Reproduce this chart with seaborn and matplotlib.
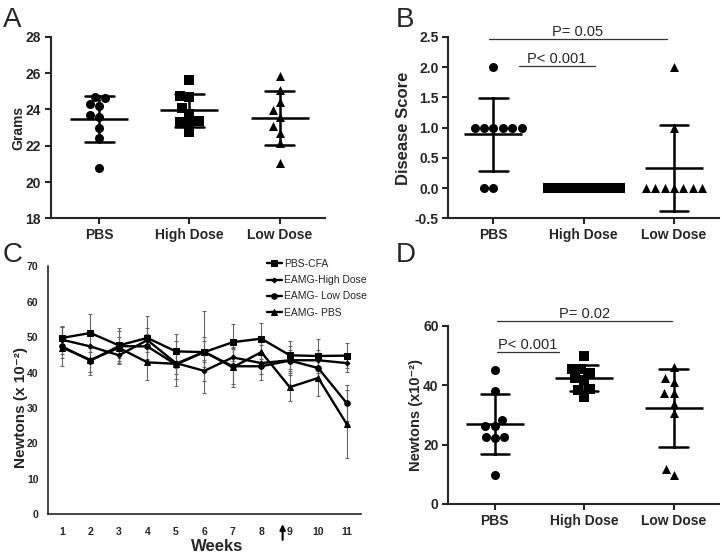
import numpy as np
import pandas as pd
import matplotlib
matplotlib.use("Agg")
import matplotlib.pyplot as plt
import seaborn as sns

sns.set_style("ticks")
plt.rcParams["font.family"] = ["Liberation Sans", "DejaVu Sans"]
plt.rcParams["font.weight"] = "bold"
plt.rcParams["axes.labelweight"] = "bold"

groups = ["PBS", "High Dose", "Low Dose"]

# panel A - body weight (grams)
weight_pbs = [24.6, 24.7, 24.2, 24.3, 23.7, 23.6, 23.0, 22.4, 20.8]
weight_high = [25.6, 24.7, 24.75, 24.05, 23.75, 23.35, 23.3, 23.25, 22.75]
weight_low = [25.83, 25.06, 24.42, 23.96, 23.6, 23.08, 22.72, 22.13, 21.06]

# panel B - disease score
score_pbs = [2, 1, 1, 1, 1, 1, 1, 0, 0]
score_high = [0, 0, 0, 0, 0, 0, 0, 0, 0]
score_low = [2, 1, 0, 0, 0, 0, 0, 0, 0]

# panel C - grip strength over time (mean, sd)
weeks = list(range(1, 12))
cfa = [49.8, 51.2, 47.7, 49.8, 46.0, 45.8, 48.6, 49.6, 44.9, 44.7, 44.8]
cfa_sd = [3.0, 5.5, 5.0, 6.2, 4.8, 4.2, 5.2, 4.4, 4.0, 4.8, 3.5]
high = [49.3, 47.4, 44.9, 49.2, 42.7, 40.5, 44.3, 42.7, 43.5, 43.5, 42.7]
high_sd = [4.0, 3.5, 2.5, 3.5, 3.0, 3.0, 3.0, 3.0, 3.0, 3.0, 2.5]
low = [47.4, 43.4, 47.5, 47.4, 42.3, 45.8, 41.8, 41.8, 43.4, 41.3, 31.4]
low_sd = [5.4, 4.0, 4.2, 3.5, 4.0, 11.5, 5.0, 3.8, 4.0, 3.5, 5.0]
pbs = [47.1, 43.6, 47.0, 42.9, 42.5, 45.9, 41.5, 45.8, 35.9, 38.5, 25.5]
pbs_sd = [3.0, 3.5, 3.0, 5.0, 6.3, 3.0, 5.5, 2.0, 3.9, 5.0, 9.5]

# panel D - grip strength at end (newtons x10^-2)
newt_pbs = [45.1, 38.0, 28.3, 26.4, 26.4, 22.7, 22.1, 22.7, 9.8]
newt_high = [49.9, 45.6, 45.6, 42.5, 44.2, 41.7, 38.6, 38.4, 36.1]
newt_low = [46.0, 42.5, 41.2, 37.5, 37.5, 33.6, 30.5, 11.7, 9.8]

markers = ["o", "s", "^"]


def dot_panel(ax, values):
    df = pd.DataFrame({"group": np.repeat(groups, [len(v) for v in values]),
                       "val": np.concatenate(values)})
    for g, m in zip(groups, markers):
        sns.swarmplot(data=df[df.group == g], x="group", y="val", order=groups,
                      marker=m, color="black", size=6.5, ax=ax, zorder=3)
    sns.pointplot(data=df, x="group", y="val", order=groups, errorbar="sd",
                  capsize=0.32, color="black", markers="_", linestyles="none",
                  markersize=42, markeredgewidth=1.8,
                  err_kws={"linewidth": 1.8}, ax=ax)
    sns.despine(ax=ax)
    for s in ["left", "bottom"]:
        ax.spines[s].set_linewidth(1.5)
    ax.tick_params(width=1.5, length=4, labelsize=10, pad=3)
    ax.set_xlabel("")


def bracket(ax, x0, x1, y, text):
    ax.plot([x0, x1], [y, y], color="#333333", lw=0.9, clip_on=False)
    ax.text((x0 + x1) / 2, y, text, ha="center", va="bottom",
            fontsize=10.5, fontweight="normal")


fig = plt.figure(figsize=(7.22, 5.57), dpi=100)

# A
axA = fig.add_axes([0.0702, 0.608, 0.380, 0.326])
dot_panel(axA, [weight_pbs, weight_high, weight_low])
axA.set_ylim(18, 28)
axA.set_yticks([18, 20, 22, 24, 26, 28])
axA.set_xlim(-0.535, 2.5)
axA.set_ylabel("Grams", fontsize=10)
axA.yaxis.set_label_coords(-0.094, 0.5)

# B
axB = fig.add_axes([0.621, 0.608, 0.375, 0.326])
dot_panel(axB, [score_pbs, score_high, score_low])
axB.set_ylim(-0.5, 2.5)
axB.set_yticks(np.arange(-0.5, 2.6, 0.5))
axB.set_yticklabels([f"{v:.1f}" for v in np.arange(-0.5, 2.6, 0.5)])
axB.set_xlim(-0.5, 2.5)
axB.set_ylabel("Disease Score", fontsize=12)
axB.yaxis.set_label_coords(-0.138, 0.495)
bracket(axB, -0.05, 1.92, 2.46, "P= 0.05")
bracket(axB, 0.28, 1.125, 2.01, "P< 0.001")

# C
axC = fig.add_axes([0.0669, 0.0767, 0.433, 0.445])
series = [("PBS-CFA", cfa, cfa_sd, "s", 4),
          ("EAMG-High Dose", high, high_sd, "D", 2.5),
          ("EAMG- Low Dose", low, low_sd, "o", 4),
          ("EAMG- PBS", pbs, pbs_sd, "^", 4)]
for name, vals, sd, m, ms in series:
    axC.errorbar(weeks, vals, yerr=sd, fmt="none", ecolor="#666666",
                 elinewidth=0.8, capsize=1.5, capthick=0.8, zorder=1)
    sns.lineplot(x=weeks, y=vals, marker=m, markersize=ms, color="black",
                 linewidth=1.7, markeredgecolor="black", label=name, ax=axC,
                 zorder=2)
sns.despine(ax=axC)
for s in ["left", "bottom"]:
    axC.spines[s].set_linewidth(1.2)
axC.set_xlim(0.52, 11.5)
axC.set_ylim(0, 70)
axC.set_xticks(weeks)
axC.set_yticks(range(0, 71, 10))
axC.tick_params(length=0, labelsize=7.5)
axC.tick_params(axis="x", pad=9)
axC.tick_params(axis="y", pad=7)
axC.set_xlabel("Weeks", fontsize=12)
axC.xaxis.set_label_coords(0.54, -0.10)
axC.set_ylabel("Newtons (x 10\u207b\u00b2)", fontsize=11)
axC.yaxis.set_label_coords(-0.065, 0.43)
axC.annotate("", xy=(8.75, -2.0), xytext=(8.75, -8.0),
             arrowprops=dict(arrowstyle="-|>", lw=1.5, color="black",
                             mutation_scale=8),
             annotation_clip=False)
axC.legend(loc="upper left", bbox_to_anchor=(0.70, 1.03), frameon=False,
           prop={"size": 7.5, "weight": "normal"}, handlelength=1.4,
           handletextpad=0.25, labelspacing=0.6, borderaxespad=0, borderpad=0)

# D
axD = fig.add_axes([0.621, 0.0952, 0.375, 0.320])
dot_panel(axD, [newt_pbs, newt_high, newt_low])
axD.set_ylim(0, 60)
axD.set_yticks([0, 20, 40, 60])
axD.set_xlim(-0.52, 2.51)
axD.set_ylabel("Newtons (x10\u207b\u00b2)", fontsize=10.5)
axD.yaxis.set_label_coords(-0.095, 0.5)
bracket(axD, 0.02, 1.98, 61.7, "P= 0.02")
bracket(axD, 0.02, 0.72, 51.2, "P< 0.001")

for letter, x, y in [("A", 0.004, 0.988), ("B", 0.548, 0.988),
                     ("C", 0.003, 0.566), ("D", 0.548, 0.566)]:
    fig.text(x, y, letter, fontsize=20, fontweight="normal", ha="left", va="top")

fig.savefig("out.png", dpi=100)
